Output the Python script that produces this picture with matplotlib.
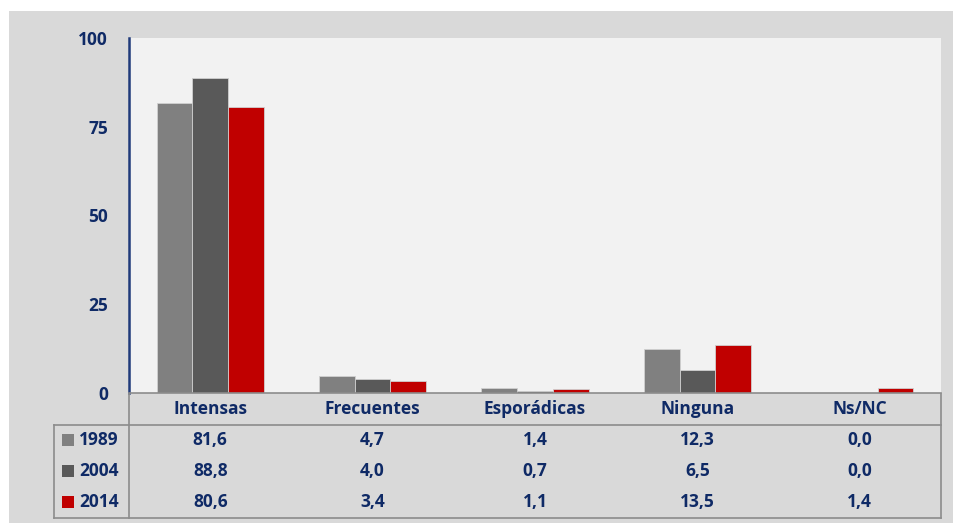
import matplotlib.pyplot as plt
import numpy as np
from matplotlib.patches import Rectangle
from matplotlib.lines import Line2D

categories = ["Intensas", "Frecuentes", "Esporádicas", "Ninguna", "Ns/NC"]
years = ["1989", "2004", "2014"]
v1989 = [81.6, 4.7, 1.4, 12.3, 0.0]
v2004 = [88.8, 4.0, 0.7, 6.5, 0.0]
v2014 = [80.6, 3.4, 1.1, 13.5, 1.4]
yticks = [0, 25, 50, 75, 100]

series = [v1989, v2004, v2014]
colors = ["#808080", "#595959", "#c00000"]
navy = "#0f2a66"
grid_grey = "#8c8c8c"

W, H = 954, 523
plt.rcParams["font.family"] = ["Open Sans", "DejaVu Sans"]
plt.rcParams["font.weight"] = "bold"
fig = plt.figure(figsize=(W / 100, H / 100), dpi=100, facecolor="white")

def fx(px):
    return px / W

def fy(py):
    return 1 - py / H

# outer grey panel
fig.add_artist(Rectangle((fx(9), 0), 1 - fx(9), fy(11), transform=fig.transFigure,
                         facecolor="#d9d9d9", edgecolor="none", zorder=0))

left, right, top, bottom = 129, 941, 38, 393
ax = fig.add_axes([fx(left), fy(bottom), fx(right - left), fy(top) - fy(bottom)])
ax.set_facecolor("#f2f2f2")

x = np.arange(len(categories))
bw = 0.22
for i, (vals, c) in enumerate(zip(series, colors)):
    ax.bar(x + (i - 1) * bw, vals, width=bw, color=c, edgecolor="#d0d0d0",
           linewidth=0.6, zorder=2)

ax.set_xlim(-0.5, len(categories) - 0.5)
ax.set_ylim(0, 100)
ax.set_yticks(yticks)
ax.set_yticklabels([str(t) for t in yticks], fontsize=12.5, fontweight="bold", color=navy)
ax.tick_params(axis="y", length=0, pad=15)
ax.set_xticks([])
for s in ["top", "right"]:
    ax.spines[s].set_visible(False)
ax.spines["left"].set_color("#1f3a7a")
ax.spines["left"].set_linewidth(1.8)
ax.spines["bottom"].set_color(grid_grey)
ax.spines["bottom"].set_linewidth(1.2)

# data table below the axes
col_w = (right - left) / len(categories)
rows_y = [394, 425, 455, 486, 518]
fs = 12.5

def hline(x0, x1, y, lw=1.2, c=grid_grey):
    fig.add_artist(Line2D([fx(x0), fx(x1)], [fy(y), fy(y)], transform=fig.transFigure,
                          color=c, linewidth=lw))

def vline(xp, y0, y1, lw=1.2, c=grid_grey):
    fig.add_artist(Line2D([fx(xp), fx(xp)], [fy(y0), fy(y1)], transform=fig.transFigure,
                          color=c, linewidth=lw))

hline(54, right, rows_y[1])
hline(54, right, rows_y[4])
vline(54, rows_y[1], rows_y[4])
vline(left, rows_y[0], rows_y[4])
vline(right, rows_y[0], rows_y[4])

for j, cat in enumerate(categories):
    cx = left + (j + 0.5) * col_w
    fig.text(fx(cx), fy((rows_y[0] + rows_y[1]) / 2), cat, ha="center", va="center",
             fontsize=fs, fontweight="bold", color=navy)

for i, (yr, vals, c) in enumerate(zip(years, series, colors)):
    cy = (rows_y[i + 1] + rows_y[i + 2]) / 2
    fig.add_artist(Rectangle((fx(62), fy(cy + 6)), fx(12), fy(cy - 6) - fy(cy + 6),
                             transform=fig.transFigure, facecolor=c, edgecolor="none"))
    fig.text(fx(79), fy(cy), yr, ha="left", va="center", fontsize=fs,
             fontweight="bold", color=navy)
    for j, v in enumerate(vals):
        cx = left + (j + 0.5) * col_w
        fig.text(fx(cx), fy(cy), f"{v:.1f}".replace(".", ","), ha="center", va="center",
                 fontsize=fs, fontweight="bold", color=navy)

fig.savefig("out.png", dpi=100, facecolor=fig.get_facecolor())
